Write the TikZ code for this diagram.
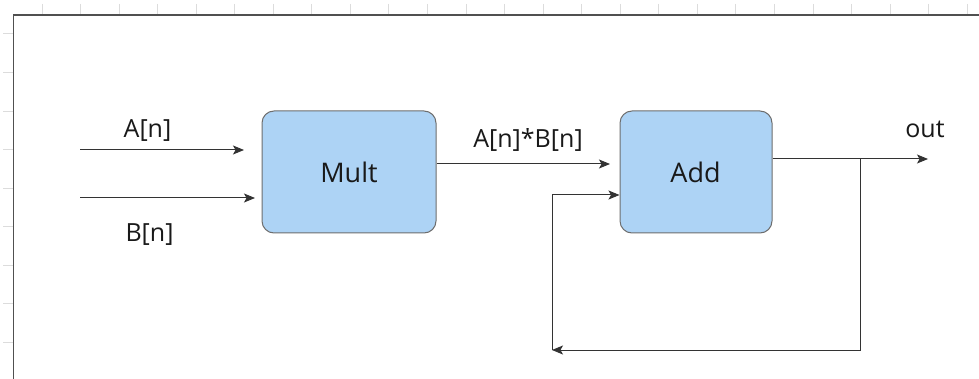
\documentclass[tikz,border=0pt]{standalone}
\usepackage{fontspec}
\setmainfont{Open Sans}
\usetikzlibrary{arrows.meta}
\definecolor{boxfill}{RGB}{173,211,245}
\definecolor{boxline}{RGB}{110,110,110}
\definecolor{wire}{RGB}{51,51,51}
\definecolor{tick}{RGB}{220,220,220}
\definecolor{frame}{RGB}{80,80,80}
\definecolor{ink}{RGB}{25,25,25}
\tikzset{
  blockbox/.style={draw=boxline, fill=boxfill, rounded corners=12pt, line width=1pt,
    minimum width=174pt, minimum height=122pt, inner sep=0pt},
  boxtext/.style={inner sep=0pt, anchor=base, font=\fontsize{27}{32}\selectfont, text=ink},
  wirearrow/.style={draw=wire, line width=1pt, -{Stealth[length=11pt,width=9pt,inset=2.5pt]}},
  lbl/.style={inner sep=0pt, anchor=base, font=\fontsize{25}{30}\selectfont, text=ink}
}
\begin{document}
\begin{tikzpicture}[x=1pt,y=-1pt]
\useasboundingbox[fill=white] (0,0) rectangle (979,379);
% ruler ticks
\foreach \i in {0,...,24} {
  \draw[tick, line width=1pt] ({42+38.55*\i},4) -- ({42+38.55*\i},15);
}
\foreach \j in {0,...,8} {
  \draw[tick, line width=1pt] (3,{34+38.55*\j}) -- (13,{34+38.55*\j});
}
\draw[frame, line width=1.5pt] (979,15) -- (13.5,15) -- (13.5,379);

% blocks
\node[blockbox] (mult) at (349,172) {};
\node[blockbox, minimum width=152pt] (add) at (696,172) {};
\node[boxtext] (multtxt) at (349,183) {Mult};
\node[boxtext] (addtxt) at (695.5,183) {Add};

% labels
\node[lbl] (la) at (147.5,138) {A[n]};
\node[lbl] (lb) at (149.5,242) {B[n]};
\node[lbl] (lab) at (528,148) {A[n]*B[n]};
\node[lbl] (lout) at (925,138) {out};

% coordinates
\coordinate (ain) at (80,150);
\coordinate (aend) at (244,150);
\coordinate (bin) at (80,198);
\coordinate (bend) at (255,198);
\coordinate (mo) at (mult.east |- 0,164);
\coordinate (ai) at (610,164);
\coordinate (ao) at (add.east |- 0,159);
\coordinate (outend) at (928,159);
\coordinate (split) at (860,159);
\coordinate (fbr) at (860,350);
\coordinate (fbl) at (552,350);
\coordinate (fbu) at (552,195);
\coordinate (fbin) at (add.west |- 0,195);

% connectors
\draw[wirearrow] (ain) -- (aend);
\draw[wirearrow] (bin) -- (bend);
\draw[wirearrow] (mo) -- (ai);
\draw[wirearrow] (ao) -- (outend);
\draw[wirearrow] (split) -- (fbr) -- (fbl);
\draw[wirearrow] (fbl) -- (fbu) -- (fbin);
\end{tikzpicture}
\end{document}
